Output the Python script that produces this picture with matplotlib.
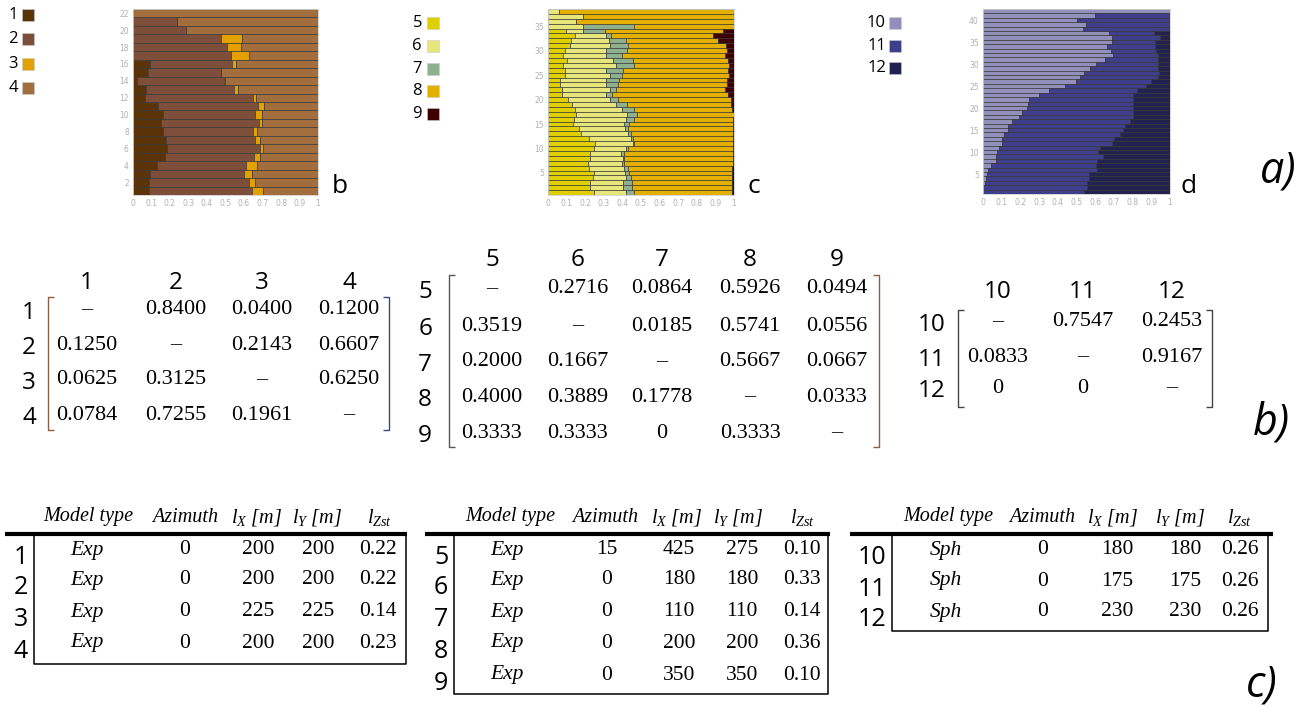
import numpy as np
import matplotlib
matplotlib.use('Agg')
import matplotlib.pyplot as plt
from matplotlib.patches import Rectangle
from matplotlib.lines import Line2D

plt.rcParams['mathtext.fontset'] = 'custom'
plt.rcParams['mathtext.it'] = 'Liberation Serif:italic'
plt.rcParams['mathtext.rm'] = 'Liberation Serif'

W, H = 1311, 706
SANS = 'Open Sans'
SERIF = 'Liberation Serif'

# ---- a) stacked proportions (shares per category, bar 1 at the bottom) ----
b_cat1 = [0.086, 0.084, 0.092, 0.129, 0.172, 0.183, 0.176, 0.162, 0.149, 0.162, 0.135,
          0.065, 0.070, 0.022, 0.083, 0.092, 0, 0, 0, 0, 0, 0]
b_cat2 = [0.557, 0.543, 0.509, 0.481, 0.482, 0.503, 0.481, 0.488, 0.530, 0.495, 0.542,
          0.581, 0.474, 0.472, 0.391, 0.443, 0.528, 0.506, 0.474, 0.285, 0.240, 0]
b_cat3 = [0.057, 0.034, 0.044, 0.061, 0.034, 0.016, 0.031, 0.018, 0.019, 0.038, 0.032,
          0.018, 0.025, 0.005, 0.0, 0.022, 0.100, 0.079, 0.116, 0, 0, 0]
b_cat4 = [0.300, 0.339, 0.355, 0.329, 0.312, 0.298, 0.312, 0.332, 0.302, 0.305, 0.291,
          0.336, 0.431, 0.501, 0.526, 0.443, 0.372, 0.415, 0.410, 0.715, 0.760, 1.0]

c_cat5 = [0.245, 0.227, 0.227, 0.242, 0.245, 0.222, 0.213, 0.227, 0.227, 0.245, 0.252,
          0.218, 0.180, 0.166, 0.134, 0.138, 0.152, 0.145, 0.127, 0.105, 0.073, 0.073,
          0.063, 0.063, 0.089, 0.089, 0.079, 0.100, 0.080, 0.089, 0.116, 0.123, 0.145,
          0.097, 0, 0, 0, 0]
c_cat6 = [0.172, 0.176, 0.176, 0.175, 0.170, 0.188, 0.186, 0.176, 0.167, 0.175, 0.204,
          0.229, 0.251, 0.247, 0.277, 0.279, 0.272, 0.254, 0.240, 0.226, 0.240, 0.258,
          0.247, 0.247, 0.242, 0.224, 0.286, 0.249, 0.230, 0.221, 0.219, 0.203, 0.165,
          0.093, 0.186, 0.150, 0.190, 0.057]
c_cat7 = [0.046, 0.051, 0.050, 0.028, 0.023, 0.018, 0.012, 0.007, 0.017, 0.008, 0.009,
          0.011, 0.016, 0.018, 0.022, 0.043, 0.057, 0.061, 0.057, 0.048, 0.029, 0.032,
          0.064, 0.073, 0.066, 0.089, 0.100, 0.107, 0.087, 0.114, 0.095, 0.094, 0.028,
          0.114, 0.274, 0, 0, 0]
c_cat8 = [0.524, 0.535, 0.536, 0.546, 0.553, 0.563, 0.582, 0.586, 0.585, 0.568, 0.531,
          0.538, 0.549, 0.564, 0.562, 0.533, 0.517, 0.527, 0.562, 0.605, 0.628, 0.589,
          0.586, 0.577, 0.578, 0.564, 0.506, 0.514, 0.555, 0.536, 0.527, 0.496, 0.551,
          0.639, 0.540, 0.850, 0.810, 0.943]
c_cat9 = [0.013, 0.011, 0.011, 0.009, 0.009, 0.009, 0.007, 0.004, 0.004, 0.004, 0.004,
          0.004, 0.004, 0.005, 0.005, 0.007, 0.002, 0.013, 0.014, 0.016, 0.030, 0.048,
          0.040, 0.040, 0.025, 0.034, 0.029, 0.030, 0.048, 0.040, 0.043, 0.084, 0.111,
          0.057, 0, 0, 0, 0]

d_cat10 = [0, 0, 0.013, 0.018, 0.023, 0.027, 0.045, 0.068, 0.068, 0.075, 0.086, 0.102,
           0.104, 0.113, 0.132, 0.132, 0.157, 0.190, 0.211, 0.236, 0.241, 0.247, 0.299,
           0.354, 0.438, 0.497, 0.519, 0.540, 0.572, 0.605, 0.653, 0.696, 0.685, 0.665,
           0.689, 0.690, 0.674, 0.537, 0.551, 0.501, 0.599, 1.0]
d_cat11 = [0.540, 0.555, 0.542, 0.549, 0.544, 0.581, 0.558, 0.540, 0.572, 0.542, 0.540,
           0.587, 0.594, 0.620, 0.616, 0.628, 0.630, 0.613, 0.592, 0.567, 0.559, 0.553,
           0.501, 0.472, 0.431, 0.403, 0.415, 0.399, 0.362, 0.329, 0.281, 0.238, 0.242,
           0.253, 0.232, 0.258, 0.238, 0.463, 0.449, 0.499, 0.401, 0]
d_cat12 = [0.460, 0.445, 0.445, 0.433, 0.433, 0.392, 0.397, 0.392, 0.360, 0.383, 0.374,
           0.311, 0.302, 0.267, 0.252, 0.240, 0.213, 0.197, 0.197, 0.197, 0.200, 0.200,
           0.200, 0.174, 0.131, 0.100, 0.066, 0.061, 0.066, 0.066, 0.066, 0.066, 0.073,
           0.082, 0.079, 0.052, 0.088, 0, 0, 0, 0, 0]

b_labels = ['1', '2', '3', '4']
c_labels = ['5', '6', '7', '8', '9']
d_labels = ['10', '11', '12']
b_colors = ['#5a3408', '#7d4f3a', '#e3a100', '#a36e3d']
c_colors = ['#e0cf00', '#e6e67a', '#8fb08f', '#e3b000', '#3e0000']
d_colors = ['#9090ba', '#3e3e8a', '#22224f']

# ---- b) transition matrices (None = dash) ----
b_matrix = [[None, 0.8400, 0.0400, 0.1200],
            [0.1250, None, 0.2143, 0.6607],
            [0.0625, 0.3125, None, 0.6250],
            [0.0784, 0.7255, 0.1961, None]]
c_matrix = [[None, 0.2716, 0.0864, 0.5926, 0.0494],
            [0.3519, None, 0.0185, 0.5741, 0.0556],
            [0.2000, 0.1667, None, 0.5667, 0.0667],
            [0.4000, 0.3889, 0.1778, None, 0.0333],
            [0.3333, 0.3333, 0, 0.3333, None]]
d_matrix = [[None, 0.7547, 0.2453],
            [0.0833, None, 0.9167],
            [0, 0, None]]

# ---- c) variogram tables ----
tab_headers = ['Model type', 'Azimuth', r'$l_X$ [m]', r'$l_Y$ [m]', r'$l_{Zst}$']
b_model = ['Exp', 'Exp', 'Exp', 'Exp']
b_azimuth = [0, 0, 0, 0]
b_lx = [200, 200, 225, 200]
b_ly = [200, 200, 225, 200]
b_lz = ['0.22', '0.22', '0.14', '0.23']
c_model = ['Exp', 'Exp', 'Exp', 'Exp', 'Exp']
c_azimuth = [15, 0, 0, 0, 0]
c_lx = [425, 180, 110, 200, 350]
c_ly = [275, 180, 110, 200, 350]
c_lz = ['0.10', '0.33', '0.14', '0.36', '0.10']
d_model = ['Sph', 'Sph', 'Sph']
d_azimuth = [0, 0, 0]
d_lx = [180, 175, 230]
d_ly = [180, 175, 230]
d_lz = ['0.26', '0.26', '0.26']


def fx(x):
    return x / W


def fy(y):
    return 1 - y / H


fig = plt.figure(figsize=(W / 100, H / 100), dpi=100)


def line(xs, ys, lw=1.0, color='black'):
    fig.add_artist(Line2D([fx(x) for x in xs], [fy(y) for y in ys], lw=lw,
                          color=color, transform=fig.transFigure,
                          solid_capstyle='butt'))


def draw_stack(box, shares, colors, yticks):
    x0, y0, x1, y1 = box
    ax = fig.add_axes([fx(x0), fy(y1), (x1 - x0) / W, (y1 - y0) / H])
    n = len(shares[0])
    pos = np.arange(1, n + 1)
    left = np.zeros(n)
    for vals, col in zip(shares, colors):
        vals = np.array(vals)
        ax.barh(pos, vals, left=left, height=1.0, color=col,
                edgecolor='#333333', linewidth=0.45)
        left += vals
    ax.set_xlim(0, 1)
    ax.set_ylim(0.5, n + 0.5)
    ax.set_xticks(np.arange(0, 1.01, 0.1))
    ax.set_xticklabels(['0'] + ['%.1f' % v for v in np.arange(0.1, 0.95, 0.1)] + ['1'])
    ax.set_yticks(yticks)
    ax.tick_params(length=0, labelsize=5.5, labelcolor='#b0b0b0', pad=3)
    for s in ax.spines.values():
        s.set_color('#d0d0d0')
        s.set_linewidth(0.6)
    return ax


def draw_legend(labels, colors, lab_x, sq_x, ys, size=12):
    for lab, col, y in zip(labels, colors, ys):
        fig.add_artist(Rectangle((fx(sq_x), fy(y + size)), size / W, size / H,
                                 facecolor=col, edgecolor='#cccccc', lw=0.4,
                                 transform=fig.transFigure))
        fig.text(fx(lab_x), fy(y + size / 2), lab, ha='right', va='center',
                 fontsize=12, family=SANS)


def draw_matrix(labels, mat, col_x, row_y, head_y, lab_x, br_x, br_y, br_cols):
    for lab, x in zip(labels, col_x):
        fig.text(fx(x), fy(head_y), lab, ha='center', va='center', fontsize=17.5, family=SANS)
    for lab, y in zip(labels, row_y):
        fig.text(fx(lab_x), fy(y + 3), lab, ha='right', va='center', fontsize=17.5, family=SANS)
    for i, row in enumerate(mat):
        for j, v in enumerate(row):
            if v is None:
                s = '\u2013'
            elif v == 0:
                s = '0'
            else:
                s = '%.4f' % v
            fig.text(fx(col_x[j]), fy(row_y[i]), s, ha='center', va='center',
                     fontsize=16, family=SERIF)
    (lx, rx), (ty, by) = br_x, br_y
    line([lx + 6, lx, lx, lx + 6], [ty, ty, by, by], lw=1.0, color=br_cols[0])
    line([rx - 6, rx, rx, rx - 6], [ty, ty, by, by], lw=1.0, color=br_cols[1])


def draw_table(labels, cols, head_x, col_x, row_y, lab_x, top_line, box):
    for h, x in zip(tab_headers, head_x):
        fig.text(fx(x), fy(517), h, ha='center', va='center', fontsize=14.5,
                 family=SERIF, style='italic')
    for lab, y in zip(labels, row_y):
        fig.text(fx(lab_x), fy(y + 8), lab, ha='center', va='center', fontsize=18, family=SANS)
    for j, col in enumerate(cols):
        for i, v in enumerate(col):
            fig.text(fx(col_x[j]), fy(row_y[i]), str(v), ha='center', va='center',
                     fontsize=15.5, family=SERIF, style='italic' if j == 0 else 'normal')
    line(top_line, [534, 534], lw=3.0)
    bx0, bx1, bby = box
    line([bx0, bx0, bx1, bx1], [534, bby, bby, 534], lw=1.1)


# stacked bars
draw_stack((133, 9, 318, 195), [b_cat1, b_cat2, b_cat3, b_cat4], b_colors, range(2, 23, 2))
draw_stack((548, 9, 734, 195), [c_cat5, c_cat6, c_cat7, c_cat8, c_cat9], c_colors, range(5, 36, 5))
draw_stack((983, 9, 1170, 194), [d_cat10, d_cat11, d_cat12], d_colors, range(5, 41, 5))

draw_legend(b_labels, b_colors, 18, 22, [9, 33, 58, 82])
draw_legend(c_labels, c_colors, 422, 427, [17, 40, 63, 85, 108])
draw_legend(d_labels, d_colors, 886, 889, [17, 40, 62])

for t, x in (('b', 332), ('c', 747), ('d', 1181)):
    fig.text(fx(x), fy(193), t, ha='left', va='baseline', fontsize=19, family=SANS)

# matrices
draw_matrix(b_labels, b_matrix, [87, 176, 262, 349], [310, 345, 380, 415], 283, 36,
            (48, 389), (297, 430), ('#8a6040', '#3a4a7a'))
draw_matrix(c_labels, c_matrix, [492, 578, 662, 750, 837], [289, 326, 362, 397, 433], 260, 432,
            (449, 879), (275, 447), ('#555555', '#8a6040'))
draw_matrix(d_labels, d_matrix, [998, 1083, 1172], [322, 357, 388], 292, 946,
            (958, 1212), (310, 407), ('#444444', '#444444'))

# tables
draw_table(b_labels, [b_model, b_azimuth, b_lx, b_ly, b_lz],
           [88, 185, 257, 317, 380], [87, 185, 258, 318, 378], [550, 580, 612, 643],
           21, [5, 407], (34, 406, 664))
draw_table(c_labels, [c_model, c_azimuth, c_lx, c_ly, c_lz],
           [510, 605, 677, 738, 803], [507, 607, 679, 742, 802], [550, 580, 612, 643, 675],
           441, [425, 830], (454, 828, 694))
draw_table(d_labels, [d_model, d_azimuth, d_lx, d_ly, d_lz],
           [948, 1042, 1113, 1180, 1240], [946, 1043, 1117, 1185, 1240], [550, 581, 612],
           872, [850, 1273], (892, 1268, 631))

# panel tags
for t, x, y in (('a)', 1260, 182), ('b)', 1253, 434), ('c)', 1246, 697)):
    fig.text(fx(x), fy(y), t, ha='left', va='baseline', fontsize=31, family=SANS, style='italic')

fig.savefig('out.png', dpi=100)
